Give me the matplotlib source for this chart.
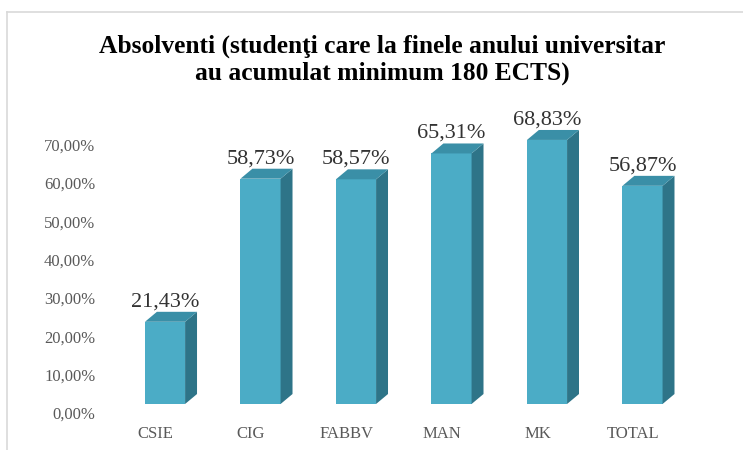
import matplotlib.pyplot as plt
from matplotlib.patches import Polygon
from matplotlib.lines import Line2D

categories = ["CSIE", "CIG", "FABBV", "MAN", "MK", "TOTAL"]
values = [21.43, 58.73, 58.57, 65.31, 68.83, 56.87]
value_labels = ["21,43%", "58,73%", "58,57%", "65,31%", "68,83%", "56,87%"]
ticks = [0, 10, 20, 30, 40, 50, 60, 70]
tick_labels = ["0,00%", "10,00%", "20,00%", "30,00%", "40,00%", "50,00%", "60,00%", "70,00%"]

front_col = "#4BACC6"
side_col = "#2E7488"
top_col = "#3A8FA7"

plt.rcParams["font.family"] = ["Liberation Serif", "DejaVu Serif"]

fig = plt.figure(figsize=(7.43, 4.5), dpi=100)
ax = fig.add_axes([0.145, 0.0822, 0.784, 0.682])
ax.set_xlim(-0.5, 5.6)
ax.set_ylim(0, 80)

# 3d-ish bar geometry
w = 0.42
shift = 0.1
dx = 0.125
dy = 2.6
base = 2.35

for i, v in enumerate(values):
    x0 = i + shift - w / 2
    x1 = x0 + w
    b = base
    t = base + v
    ax.add_patch(Polygon([(x0, b), (x1, b), (x1, t), (x0, t)],
                         closed=True, facecolor=front_col, edgecolor="none"))
    ax.add_patch(Polygon([(x1, b), (x1 + dx, b + dy), (x1 + dx, t + dy), (x1, t)],
                         closed=True, facecolor=side_col, edgecolor="none"))
    ax.add_patch(Polygon([(x0, t), (x0 + dx, t + dy), (x1 + dx, t + dy), (x1, t)],
                         closed=True, facecolor=top_col, edgecolor="none"))
    ax.text(i + shift, t + dy + 2.6, value_labels[i], ha="center", va="center",
            fontsize=16, color="#333333")

ax.set_xticks(range(len(categories)))
ax.set_xticklabels(categories, fontsize=12, color="#595959")
ax.set_yticks(ticks)
ax.set_yticklabels(tick_labels, fontsize=12, color="#595959")
ax.tick_params(length=0)
ax.tick_params(axis="x", pad=9)
ax.tick_params(axis="y", pad=9)
for s in ax.spines.values():
    s.set_visible(False)

fig.text(0.514, 0.868, "Absolventi (studenţi care la finele anului universitar\nau acumulat minimum 180 ECTS)",
         ha="center", va="center", fontsize=18.4, fontweight="bold", linespacing=1.2)

# chart frame
fig.add_artist(Line2D([0.0095, 1.0], [0.973, 0.973], color="#D9D9D9", lw=1.2))
fig.add_artist(Line2D([0.0095, 0.0095], [0.0, 0.973], color="#D9D9D9", lw=1.2))

fig.savefig("out.png", dpi=100)
